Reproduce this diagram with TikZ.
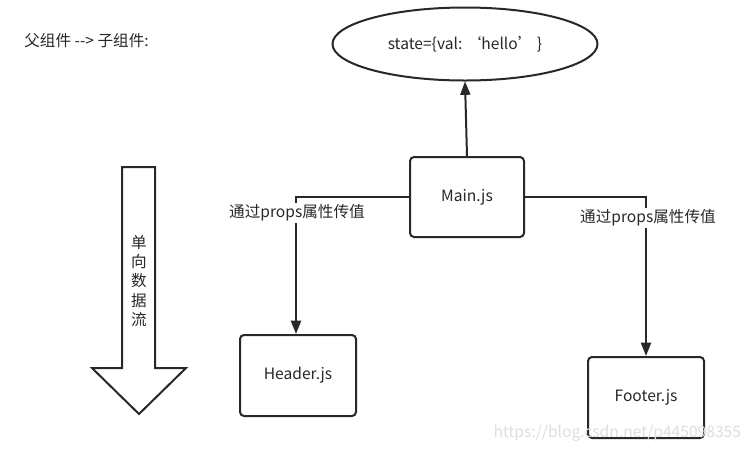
\documentclass[tikz,border=0pt]{standalone}
\usepackage{fontspec}
\setmainfont{Noto Sans CJK SC}
\usetikzlibrary{arrows.meta,shapes.geometric}
\begin{document}
\begin{tikzpicture}[x=0.75pt,y=-0.75pt,
  line width=1.5pt, draw={rgb,255:red,40;green,40;blue,40},
  txt/.style={text={rgb,255:red,40;green,40;blue,40}, font=\fontsize{11.7}{13}\selectfont, inner sep=1pt},
  comp/.style={draw, rounded corners=3pt, txt},
  lbl/.style={txt, fill=white, inner sep=1.5pt},
  arr/.style={-{Triangle[width=7.5pt,length=10pt]}}]
\useasboundingbox (0,0) rectangle (751,451);
\fill[white] (0,0) rectangle (751,451);
\node[txt, anchor=west] (title) at (22,41) {父组件 -{}-> 子组件:};
\node[draw, ellipse, txt, minimum width=265*0.75pt, minimum height=73*0.75pt] (state) at (465,44) {state=\{val:\ ‘hello’\ \}};
\node[comp, minimum width=114*0.75pt, minimum height=80*0.75pt] (main) at (467,197) {Main.js};
\node[comp, minimum width=116*0.75pt, minimum height=81*0.75pt] (header) at (298,375.5) {Header.js};
\node[comp, minimum width=116*0.75pt, minimum height=81*0.75pt] (footer) at (646,397.5) {Footer.js};
\coordinate (lc) at (296,197);
\coordinate (rc) at (646,197);
\draw[arr] (main.north) -- (state.south);
\draw[arr] (main.west) -- (lc) -- (lc |- header.north);
\draw[arr] (main.east) -- (rc) -- (footer.north);
\node[lbl] (l1) at (297,213) {通过props属性传值};
\node[lbl] (l2) at (648,218) {通过props属性传值};
\draw[line width=1.5pt, line join=miter] (122,167) -- (155,167) -- (155,368) -- (186,368) -- (139,414) -- (92,368) -- (122,368) -- cycle;
\node[txt, align=center, font=\fontsize{11.7}{14.5}\selectfont] (flow) at (139,281) {单\\向\\数\\据\\流};
\node[text={rgb,255:red,222;green,222;blue,222}, font=\fontsize{11.7}{13}\selectfont, anchor=east, inner sep=0pt] (wm) at (742,433) {https://blog.csdn.net/p445098355};
\end{tikzpicture}
\end{document}
